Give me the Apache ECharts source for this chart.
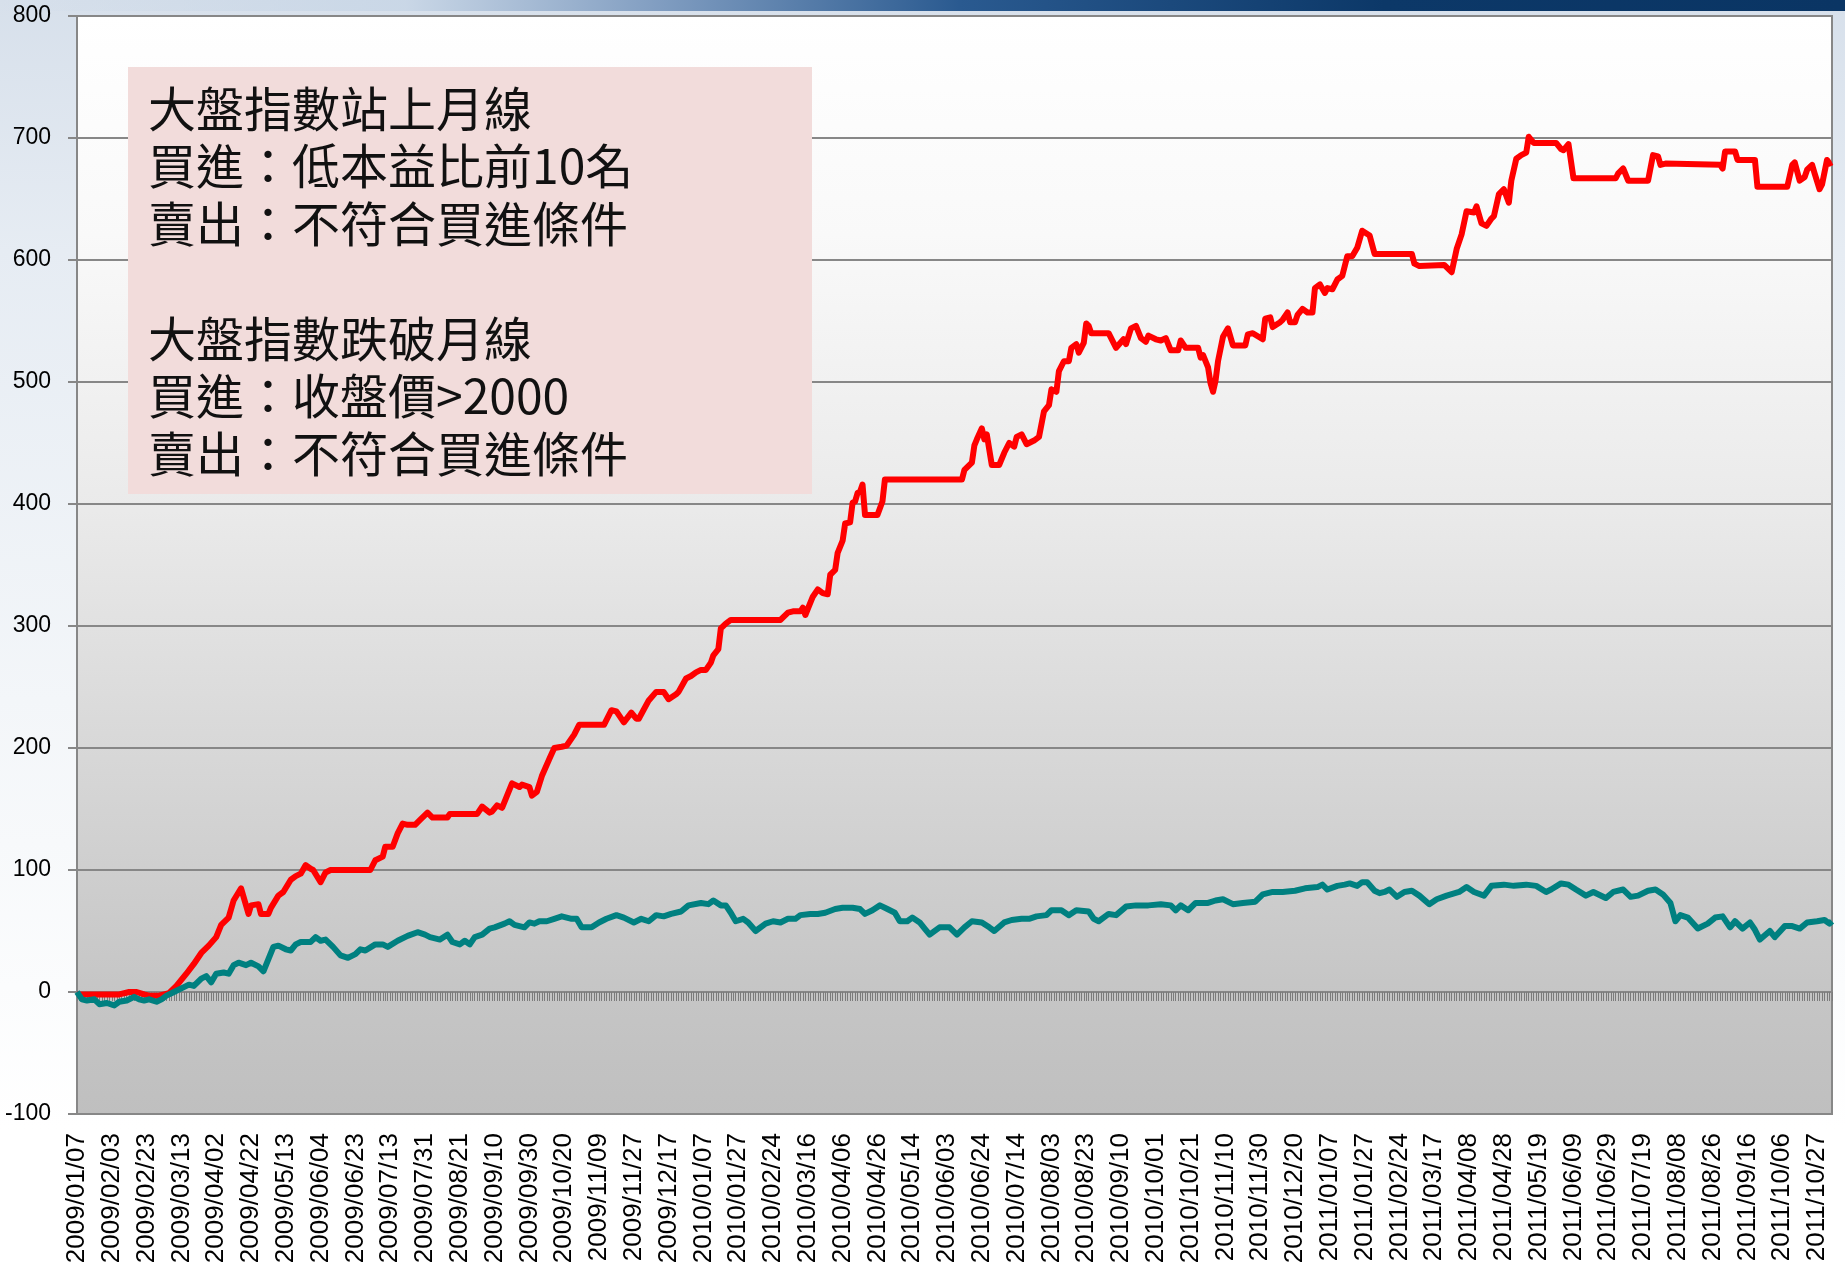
<!DOCTYPE html>
<html>
<head>
<meta charset="utf-8">
<script src="https://cdn.jsdelivr.net/npm/echarts@6/dist/echarts.min.js"></script>
<style>
  html, body { margin: 0; padding: 0; width: 1845px; height: 1263px; overflow: hidden; }
  body { background: linear-gradient(180deg, #d7e0eb 0px, #e6ecf3 250px, #f3f6f9 700px, #ffffff 1130px); position: relative; }
  #band { position: absolute; left: 0; top: 0; width: 1845px; height: 11px;
          background: linear-gradient(90deg, rgba(220,229,239,0) 0%, rgba(200,214,230,0.9) 22%, #7f9cc0 36%, #2a5a90 52%, #0c3868 75%, #0a3564 100%); }
  #chart { position: absolute; left: 0; top: 0; width: 1845px; height: 1263px; }
</style>
</head>
<body>
<div id="band"></div>
<div id="chart"></div>
<script>
// ---- data ----
const dayCount = 707;
const labelEvery = 14;
const labelDates = ['2009/01/07','2009/02/03','2009/02/23','2009/03/13','2009/04/02','2009/04/22','2009/05/13','2009/06/04','2009/06/23','2009/07/13','2009/07/31','2009/08/21','2009/09/10','2009/09/30','2009/10/20','2009/11/09','2009/11/27','2009/12/17','2010/01/07','2010/01/27','2010/02/24','2010/03/16','2010/04/06','2010/04/26','2010/05/14','2010/06/03','2010/06/24','2010/07/14','2010/08/03','2010/08/23','2010/09/10','2010/10/01','2010/10/21','2010/11/10','2010/11/30','2010/12/20','2011/01/07','2011/01/27','2011/02/24','2011/03/17','2011/04/08','2011/04/28','2011/05/19','2011/06/09','2011/06/29','2011/07/19','2011/08/08','2011/08/26','2011/09/16','2011/10/06','2011/10/27'];

// [trading-day index, cumulative return]
const redPoints = [[0,-2],[17,-2],[21,0],[24,0],[27,-2],[29,-3],[33,-3],[35,-2],[37,-1],[40,5],[44,15],[47,23],[50,32],[53,38],[56,45],[58,55],[61,61],[63,75],[66,85],[69,64],[70,71],[73,72],[74,64],[77,64],[78,69],[81,79],[83,82],[86,92],[88,95],[90,97],[92,104],[94,101],[95,100],[98,90],[100,98],[102,100],[118,100],[120,108],[123,111],[124,119],[127,119],[129,130],[131,138],[133,137],[136,137],[138,141],[141,147],[143,143],[149,143],[150,146],[161,146],[163,152],[166,147],[167,148],[169,153],[171,151],[175,171],[178,168],[179,170],[182,168],[183,161],[185,164],[187,177],[190,191],[192,200],[195,201],[197,202],[200,211],[202,219],[212,219],[215,231],[217,230],[220,221],[223,229],[225,224],[226,224],[230,239],[233,246],[236,246],[238,240],[241,244],[242,246],[245,257],[247,259],[249,262],[251,264],[253,264],[255,270],[256,276],[258,281],[259,298],[261,302],[263,305],[283,305],[286,311],[288,312],[291,312],[292,315],[293,309],[294,314],[296,324],[298,330],[300,327],[302,326],[303,342],[305,346],[306,360],[308,370],[309,384],[311,385],[312,401],[313,402],[314,409],[315,410],[316,416],[317,391],[322,391],[324,402],[325,420],[356,420],[357,428],[360,434],[361,448],[362,453],[364,462],[365,453],[366,457],[368,432],[371,432],[373,442],[375,450],[377,447],[378,455],[380,457],[382,449],[385,452],[387,455],[389,476],[391,481],[392,494],[394,492],[395,509],[397,517],[399,517],[400,528],[402,531],[403,524],[405,532],[406,548],[407,546],[408,540],[415,540],[418,528],[421,535],[422,531],[424,544],[426,546],[428,536],[430,533],[431,538],[434,535],[436,534],[438,536],[440,526],[443,526],[444,534],[446,528],[451,528],[452,520],[453,522],[455,512],[456,499],[457,492],[458,501],[459,517],[461,537],[463,544],[465,530],[470,530],[471,539],[473,540],[477,535],[478,552],[480,553],[481,545],[484,549],[485,551],[487,557],[488,549],[490,549],[491,555],[493,560],[495,557],[497,557],[498,577],[500,580],[502,573],[503,577],[505,576],[507,584],[509,587],[511,603],[513,603],[515,610],[517,624],[520,620],[522,605],[537,605],[538,597],[540,595],[550,596],[553,590],[555,609],[557,621],[559,640],[562,639],[563,644],[565,630],[567,628],[569,634],[570,636],[572,654],[574,658],[576,647],[577,665],[579,683],[581,686],[583,688],[584,701],[586,696],[595,696],[597,691],[598,690],[600,695],[602,667],[619,667],[620,671],[622,675],[624,665],[632,665],[634,686],[636,685],[637,678],[639,679],[661,678],[662,675],[663,689],[667,689],[668,682],[675,682],[676,660],[688,660],[690,678],[691,680],[693,665],[695,668],[696,674],[698,678],[699,671],[701,658],[702,662],[704,682],[705,679],[706,680]];

const tealPoints = [[0,0],[2,-6],[4,-7],[7,-6],[9,-10],[12,-9],[15,-11],[17,-8],[20,-7],[23,-4],[25,-6],[27,-7],[29,-6],[32,-8],[34,-6],[36,-3],[39,0],[43,4],[45,6],[47,5],[50,11],[52,13],[54,8],[56,15],[59,16],[61,15],[63,22],[65,24],[68,22],[70,24],[73,21],[75,17],[77,27],[79,37],[81,38],[84,35],[86,34],[88,39],[90,41],[94,41],[96,45],[98,42],[100,43],[103,37],[106,30],[109,28],[112,31],[114,35],[116,34],[120,39],[123,39],[125,37],[129,42],[133,46],[137,49],[140,47],[142,45],[146,43],[149,47],[151,41],[154,39],[156,42],[158,39],[160,45],[163,47],[166,52],[168,53],[172,56],[174,58],[176,55],[180,53],[182,57],[184,56],[186,58],[189,58],[192,60],[195,62],[199,60],[201,60],[203,53],[207,53],[210,57],[213,60],[217,63],[220,61],[224,57],[227,60],[230,58],[233,63],[236,62],[239,64],[243,66],[246,71],[251,73],[254,72],[256,75],[259,71],[261,71],[263,65],[265,58],[268,60],[270,57],[273,50],[277,56],[280,58],[283,57],[286,60],[289,60],[291,63],[295,64],[298,64],[301,65],[305,68],[308,69],[312,69],[315,68],[317,64],[320,67],[323,71],[326,68],[329,65],[331,58],[334,58],[336,61],[339,57],[341,52],[343,47],[347,53],[351,53],[354,47],[357,53],[360,58],[364,57],[367,53],[369,50],[373,57],[376,59],[380,60],[383,60],[386,62],[390,63],[392,67],[396,67],[399,63],[402,67],[407,66],[409,60],[411,58],[415,64],[418,63],[422,70],[426,71],[431,71],[436,72],[440,71],[442,67],[444,71],[447,67],[450,73],[455,73],[458,75],[461,76],[465,72],[469,73],[474,74],[477,80],[481,82],[485,82],[490,83],[494,85],[499,86],[501,88],[503,84],[507,87],[510,88],[512,89],[515,87],[517,90],[519,90],[522,83],[524,81],[526,82],[528,84],[531,78],[534,82],[537,83],[540,79],[544,72],[547,76],[551,79],[556,82],[559,86],[562,82],[566,79],[569,87],[574,88],[578,87],[583,88],[587,87],[591,82],[593,84],[597,89],[600,88],[603,84],[607,79],[610,82],[615,77],[618,82],[622,84],[625,78],[628,79],[632,83],[635,84],[638,80],[641,73],[643,58],[645,63],[648,61],[652,52],[656,56],[659,61],[662,62],[665,53],[667,58],[670,52],[673,57],[675,51],[677,43],[681,50],[683,45],[687,54],[690,54],[693,52],[696,57],[700,58],[703,59],[705,56],[706,58]];

const yMin = -100, yMax = 800, yStep = 100;
const noteText = '大盤指數站上月線\n買進：低本益比前10名\n賣出：不符合買進條件\n\n大盤指數跌破月線\n買進：收盤價>2000\n賣出：不符合買進條件';

// ---- build categories from the label dates ----
const categories = [];
for (let i = 0; i < dayCount; i++) {
  categories.push(i % labelEvery === 0 ? labelDates[i / labelEvery] : '');
}

const chart = echarts.init(document.getElementById('chart'), null, { renderer: 'canvas' });
const gray = '#878787';
chart.setOption({
  animation: false,
  backgroundColor: 'transparent',
  grid: {
    left: 77, right: 13, top: 16, bottom: 149,
    containLabel: false,
    outerBoundsMode: 'none',
    show: true,
    borderColor: gray, borderWidth: 2,
    backgroundColor: new echarts.graphic.LinearGradient(0, 0, 0, 1, [
      { offset: 0, color: '#ffffff' },
      { offset: 0.2, color: '#f9f9f9' },
      { offset: 0.45, color: '#eaeaea' },
      { offset: 0.7, color: '#d5d5d5' },
      { offset: 0.88, color: '#c6c6c6' },
      { offset: 1, color: '#bfbfbf' }
    ])
  },
  xAxis: {
    type: 'category',
    data: categories,
    boundaryGap: false,
    axisLine: { onZero: true, lineStyle: { color: gray, width: 2 } },
    axisTick: { show: true, interval: 0, length: 9, lineStyle: { color: '#7c7c7c', width: 1 } },
    axisLabel: {
      interval: labelEvery - 1, rotate: 90, margin: 19,
      fontSize: 26, color: '#000', fontFamily: '"Liberation Sans", Arial, sans-serif'
    },
    splitLine: { show: false }
  },
  yAxis: {
    type: 'value',
    min: yMin, max: yMax, interval: yStep,
    axisLine: { show: true, lineStyle: { color: gray, width: 2 } },
    axisTick: { show: true, length: 9, lineStyle: { color: gray, width: 2 } },
    axisLabel: { margin: 26, fontSize: 23, color: '#000', fontFamily: '"Liberation Sans", Arial, sans-serif' },
    splitLine: { show: true, lineStyle: { color: gray, width: 2 } }
  },
  series: [
    {
      type: 'line', data: redPoints, showSymbol: false, symbol: 'none',
      lineStyle: { color: '#ff0000', width: 6, join: 'round' }, z: 3
    },
    {
      type: 'line', data: tealPoints, showSymbol: false, symbol: 'none',
      lineStyle: { color: '#008080', width: 6, join: 'round' }, z: 4
    }
  ],
  graphic: [
    {
      type: 'rect', left: 128, top: 67, z: 50,
      shape: { width: 684, height: 427 },
      style: { fill: '#f2dcdb' }
    },
    {
      type: 'text', left: 148, top: 80, z: 51,
      style: {
        text: noteText,
        font: '48px "Noto Sans CJK TC", "Noto Sans CJK SC", sans-serif',
        lineHeight: 57.5,
        fill: '#111'
      }
    }
  ]
});
</script>
</body>
</html>
